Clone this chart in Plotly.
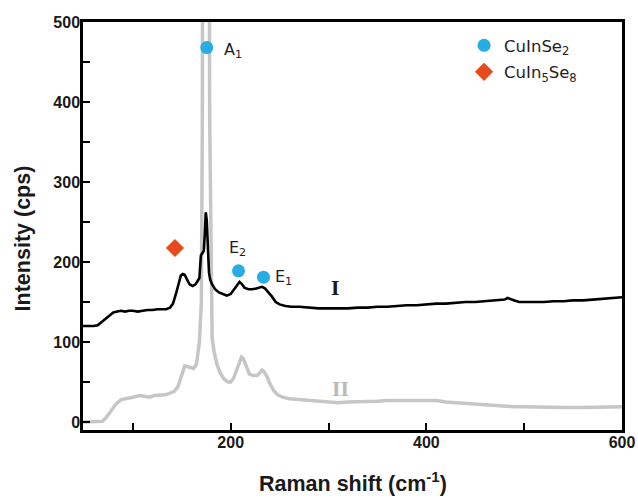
import plotly.graph_objects as go

# Raman spectrum of sample I (black, offset upward)
shift_I = [49, 55, 60, 64, 68, 72, 76, 80, 84, 88, 92, 96, 100, 105, 110, 115, 120, 125,
           130, 134, 138, 141, 144, 147, 149, 151, 153, 155, 158, 161, 164, 166, 168, 169.5,
           171, 172.5, 173.5, 174.5, 175.5, 176.5, 177.8, 179, 181, 184, 188, 192, 196, 200,
           203, 206, 209, 211, 214, 218, 222, 226, 229, 232, 235, 238, 242, 246, 250, 256,
           262, 270, 280, 290, 300, 310, 320, 330, 340, 350, 360, 370, 380, 390, 400, 410,
           420, 430, 440, 450, 460, 470, 476, 480, 483, 486, 490, 495, 500, 510, 520, 530,
           540, 550, 560, 570, 580, 590, 600]
intensity_I = [120, 120, 120, 121, 125, 130, 134, 137, 138, 139, 138, 139, 139, 138, 139, 140, 140, 141,
               141, 141, 143, 148, 160, 176, 183, 185, 184, 179, 172, 170, 172, 176, 180, 208,
               212, 214, 235, 262, 252, 222, 187, 178, 172, 166, 162, 160, 158, 160,
               165, 170, 175, 173, 168, 166, 166, 167, 168, 169, 167, 163, 157, 150, 147, 145,
               144, 144, 143, 142, 142, 142, 142, 143, 143, 144, 144, 145, 146, 146, 147, 148,
               148, 149, 150, 150, 151, 152, 152, 153, 155, 154, 152, 150, 150, 150, 150, 151,
               151, 152, 152, 153, 154, 155, 156]

# Raman spectrum of sample II (grey)
shift_II = [49, 55, 60, 65, 69, 73, 78, 83, 88, 94, 100, 107, 112, 117, 122, 128, 133, 138,
            142, 146, 150, 153, 156, 159, 162, 165, 168, 170, 171, 171.7, 173, 176, 177.5,
            178.5, 180, 181, 183, 186, 189, 193, 197, 200, 203, 206, 209, 211, 213, 216,
            219, 223, 227, 230, 232, 234, 237, 240, 244, 248, 253, 260, 270, 280, 290, 300,
            310, 320, 330, 340, 350, 360, 370, 380, 390, 400, 405, 410, 420, 430, 440, 450,
            460, 470, 480, 490, 500, 520, 540, 560, 580, 600]
intensity_II = [0, 0, 0, 0, 1, 6, 14, 23, 28, 30, 31, 33, 32, 31, 33, 33, 34, 36,
                38, 44, 58, 70, 69, 68, 67, 72, 100, 150, 380, 900, 1400, 1400, 900,
                380, 160, 105, 88, 72, 62, 54, 50, 50, 55, 66, 76, 81, 79, 68,
                60, 58, 58, 62, 65, 63, 57, 48, 39, 34, 31, 29, 28, 27, 25, 24,
                24, 25, 25, 26, 26, 27, 27, 27, 28, 28, 28, 27, 25, 24, 23, 22,
                21, 20, 19, 19, 19, 18, 18, 18, 19, 19]

# CuInSe2 vibrational modes
cis_shift = [175.5, 208, 233.5]
cis_level = [468, 189, 181]
cis_modes = ["A<sub>1</sub>", "E<sub>2</sub>", "E<sub>1</sub>"]

# CuIn5Se8 mode
ods_shift = [143]
ods_level = [217.5]

x_ticks = [200, 400, 600]
y_ticks = [0, 100, 200, 300, 400, 500]

BLUE = "#27ade3"
ORANGE = "#e64a1d"
GREY = "#c6c6c6"
TEXT = "#1e1e1e"

fig = go.Figure()

fig.add_trace(go.Scatter(x=shift_II, y=intensity_II, mode="lines",
                         line=dict(color=GREY, width=3.5), showlegend=False,
                         hoverinfo="skip"))
fig.add_trace(go.Scatter(x=shift_I, y=intensity_I, mode="lines",
                         line=dict(color="black", width=2.6), showlegend=False,
                         hoverinfo="skip"))

fig.add_trace(go.Scatter(
    x=cis_shift, y=cis_level, mode="markers", name="CuInSe<sub>2</sub>",
    legendgroup="cis", marker=dict(color=BLUE, size=13, symbol="circle"),
))
fig.add_trace(go.Scatter(
    x=ods_shift, y=ods_level, mode="markers", name="CuIn<sub>5</sub>Se<sub>8</sub>",
    legendgroup="ods", marker=dict(color=ORANGE, size=14, symbol="diamond"),
))

# mode labels next to their markers (pixel offsets per label)
label_offsets = [("left", 15, -3), ("center", -1, 22), ("left", 10, 0)]
for xs, ys, txt, (anchor, dx, dy) in zip(cis_shift, cis_level, cis_modes, label_offsets):
    fig.add_annotation(x=xs, y=ys, text=txt, showarrow=False, xanchor=anchor,
                       yanchor="middle", xshift=dx, yshift=dy,
                       font=dict(family="DejaVu Sans", size=16, color=TEXT))

fig.add_annotation(x=306.5, y=167.5, text="I", showarrow=False,
                   font=dict(family="DejaVu Serif", size=18, color="#1a1a1a", weight="bold"))
fig.add_annotation(x=312.5, y=41, text="II", showarrow=False,
                   font=dict(family="DejaVu Serif", size=18, color="#b9b9b9", weight="bold"))

# axis titles
fig.add_annotation(xref="paper", yref="paper", x=0.5, y=-0.128, text="Raman shift (cm<sup>-1</sup>)",
                   showarrow=False, xanchor="center", yanchor="middle",
                   font=dict(family="Liberation Sans", size=21.5, color="#1a1a1a", weight="bold"))
fig.add_annotation(xref="paper", yref="paper", x=-0.111, y=0.47, text="Intensity (cps)",
                   showarrow=False, textangle=-90, xanchor="center", yanchor="middle",
                   font=dict(family="Liberation Sans", size=21.5, color="#1a1a1a", weight="bold"))

axis_common = dict(
    showline=True, linecolor="black", linewidth=2.5, mirror=True,
    ticks="inside", tickcolor="black", tickwidth=2.2, ticklen=7,
    showgrid=False, zeroline=False, automargin=False,
    tickfont=dict(family="Liberation Sans", size=16, color="#1a1a1a", weight="bold"),
)

fig.update_xaxes(range=[49, 600], tickvals=x_ticks,
                 minor=dict(tickvals=[100, 300, 500], ticks="inside", ticklen=7,
                            tickwidth=2.2, tickcolor="black"),
                 ticklabelstandoff=-4, **axis_common)
fig.update_yaxes(range=[-10, 500], tickvals=y_ticks,
                 minor=dict(tickvals=[50, 150, 250, 350, 450], ticks="inside", ticklen=7,
                            tickwidth=2.2, tickcolor="black"),
                 ticklabelstandoff=-3, **axis_common)

fig.update_layout(
    width=638, height=498,
    margin=dict(l=83, r=16, t=22, b=68, autoexpand=False),
    paper_bgcolor="white", plot_bgcolor="white",
    showlegend=True,
    legend=dict(x=0.707, y=0.985, xanchor="left", yanchor="top",
                bgcolor="rgba(0,0,0,0)", itemwidth=30, tracegroupgap=2,
                font=dict(family="DejaVu Sans", size=16.5, color=TEXT)),
)

fig.write_html("out.html")
